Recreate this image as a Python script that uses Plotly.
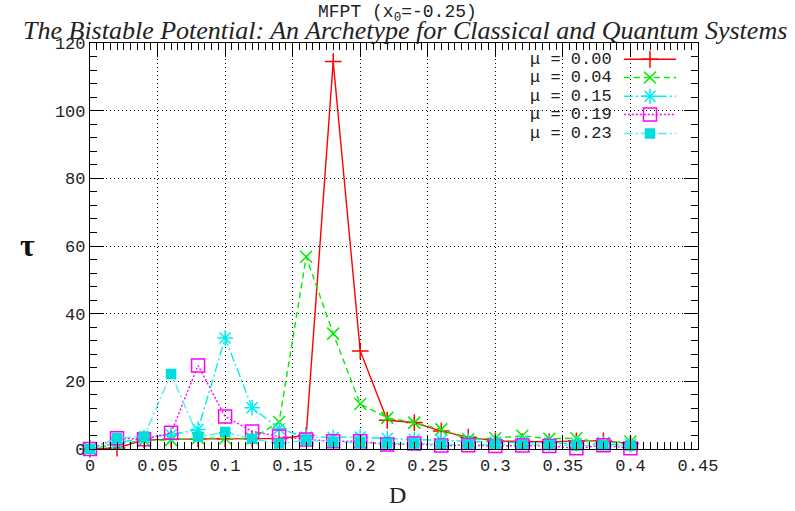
import plotly.graph_objects as go

# ---- data ----
D = [0.00, 0.02, 0.04, 0.06, 0.08, 0.10, 0.12, 0.14, 0.16, 0.18, 0.20,
     0.22, 0.24, 0.26, 0.28, 0.30, 0.32, 0.34, 0.36, 0.38, 0.40]

tau_mu000 = [0.0, 0.3, 2.7, 2.9, 3.0, 3.0, 3.0, 3.1, 4.0, 114.5, 29.0,
             8.5, 7.8, 5.3, 3.5, 2.4, 2.2, 2.1, 2.4, 2.4, 1.6]
tau_mu004 = [0.0, 1.5, 2.5, 2.7, 3.2, 3.2, 3.1, 8.0, 56.8, 34.1, 13.3,
             9.2, 7.8, 5.8, 2.9, 3.2, 3.9, 3.0, 3.2, 1.7, 2.2]
tau_mu015 = [0.0, 1.8, 3.3, 4.2, 5.8, 32.8, 12.2, 6.0, 3.5, 3.4, 3.5,
             3.1, 2.8, 2.6, 2.3, 2.0, 1.9, 1.7, 1.6, 1.5, 1.3]
tau_mu019 = [0.0, 3.2, 2.9, 4.8, 24.7, 9.6, 5.2, 3.7, 2.8, 2.3, 2.3,
             1.3, 1.6, 1.0, 1.1, 0.9, 1.0, 0.9, 0.2, 1.1, 0.2]
tau_mu023 = [0.0, 3.2, 3.7, 22.2, 3.6, 5.0, 3.0, 1.6, 2.6, 2.1, 1.8,
             1.6, 1.6, 1.3, 1.3, 1.3, 1.2, 1.2, 1.0, 1.1, 1.0]

series_labels = ["\u03bc = 0.00", "\u03bc = 0.04", "\u03bc = 0.15", "\u03bc = 0.19", "\u03bc = 0.23"]
x_ticks = [0, 0.05, 0.1, 0.15, 0.2, 0.25, 0.3, 0.35, 0.4, 0.45]
x_tick_text = ["0", "0.05", "0.1", "0.15", "0.2", "0.25", "0.3", "0.35", "0.4", "0.45"]
y_ticks = [0, 20, 40, 60, 80, 100, 120]

# ---- styles ----
styles = [
    dict(color="#ff0000", dash="solid", symbol="cross-thin-open", size=12, mline="#ff0000"),
    dict(color="#00ee00", dash="6px,4px", symbol="x-thin-open", size=12, mline="#00ee00"),
    dict(color="#00eeee", dash="9px,3px,2px,3px", symbol="asterisk-open", size=13, mline="#00eeee"),
    dict(color="#ff00ff", dash="2px,2px", symbol="square-open", size=13, mline="#ff00ff"),
    dict(color="#55eeee", dash="9px,3px,2px,3px", symbol="square", size=9, mline="#00dddd"),
]
series = [tau_mu000, tau_mu004, tau_mu015, tau_mu019, tau_mu023]

MONO = "Liberation Mono, Courier New, monospace"
SERIF = "Liberation Serif, Times New Roman, serif"

fig = go.Figure()
for ys, st, lab in zip(series, styles, series_labels):
    fig.add_trace(go.Scatter(
        x=D, y=ys, mode="lines+markers", name=lab, cliponaxis=False,
        line=dict(color=st["color"], width=1.4, dash=st["dash"]),
        marker=dict(symbol=st["symbol"], size=st["size"],
                    color=st["mline"] if st["symbol"] == "square" else st["color"],
                    line=dict(color=st["mline"], width=1.5)),
        showlegend=False,
    ))

# ---- gnuplot-style key (text left, sample right) on a helper axis ----
key_rows = [0.960, 0.915, 0.869, 0.824, 0.777]
for st, lab, ky in zip(styles, series_labels, key_rows):
    fig.add_trace(go.Scatter(
        x=[0.878, 0.964], y=[ky, ky], xaxis="x2", yaxis="y2", mode="lines",
        line=dict(color=st["color"], width=1.4, dash=st["dash"]),
        showlegend=False, hoverinfo="skip"))
    fig.add_trace(go.Scatter(
        x=[0.921], y=[ky], xaxis="x2", yaxis="y2", mode="markers",
        marker=dict(symbol=st["symbol"], size=st["size"],
                    color=st["mline"] if st["symbol"] == "square" else st["color"],
                    line=dict(color=st["mline"], width=1.5)),
        showlegend=False, hoverinfo="skip"))
    fig.add_annotation(x=0.862, y=ky, xref="paper", yref="paper", text=lab,
                       showarrow=False, xanchor="right", yanchor="middle",
                       font=dict(family=MONO, size=17, color="#222"))

fig.add_shape(type="rect", xref="paper", yref="paper", x0=0.70, x1=0.99,
              y0=0.753, y1=0.99, fillcolor="white", line=dict(width=0), layer="between")

axis_common = dict(showline=True, linecolor="black", linewidth=1.2, mirror="allticks",
                   ticks="inside", ticklen=14, tickwidth=1, tickcolor="black",
                   showgrid=True, gridcolor="black", gridwidth=1, griddash="1px,3px",
                   zeroline=False, tickfont=dict(family=MONO, size=17, color="#222"))

fig.update_layout(
    width=795, height=511,
    margin=dict(l=90, r=97, t=43, b=62),
    paper_bgcolor="white", plot_bgcolor="white",
    xaxis=dict(range=[0, 0.45], tickvals=x_ticks, ticktext=x_tick_text,
               minor=dict(dtick=0.005, tick0=0, ticks="inside", ticklen=7,
                          tickcolor="black", showgrid=False),
               **axis_common),
    yaxis=dict(range=[0, 120], tickvals=y_ticks,
               minor=dict(dtick=4, tick0=0, ticks="inside", ticklen=7,
                          tickcolor="black", showgrid=False),
               **axis_common),
    xaxis2=dict(overlaying="x", range=[0, 1], visible=False),
    yaxis2=dict(overlaying="y", range=[0, 1], visible=False),
)

# titles and axis labels
fig.add_annotation(x=0.505, y=1.106, xref="paper", yref="paper", showarrow=False,
                   text="MFPT (x<sub>0</sub>=-0.25)", xanchor="center", yanchor="top",
                   font=dict(family=MONO, size=18, color="#222"))
fig.add_annotation(x=0.518, y=1.032, xref="paper", yref="paper", showarrow=False,
                   text="<i>The Bistable Potential: An Archetype for Classical and Quantum Systems</i>",
                   xanchor="center", yanchor="middle",
                   font=dict(family=SERIF, size=26, color="#222"))
fig.add_annotation(x=-0.102, y=0.502, xref="paper", yref="paper", showarrow=False,
                   text="<b>\u03c4</b>", xanchor="center", yanchor="middle",
                   font=dict(family=SERIF, size=32, color="#111"))
fig.add_annotation(x=0.505, y=-0.114, xref="paper", yref="paper", showarrow=False,
                   text="D", xanchor="center", yanchor="middle",
                   font=dict(family=SERIF, size=24, color="#222"))

fig.write_html("out.html")
